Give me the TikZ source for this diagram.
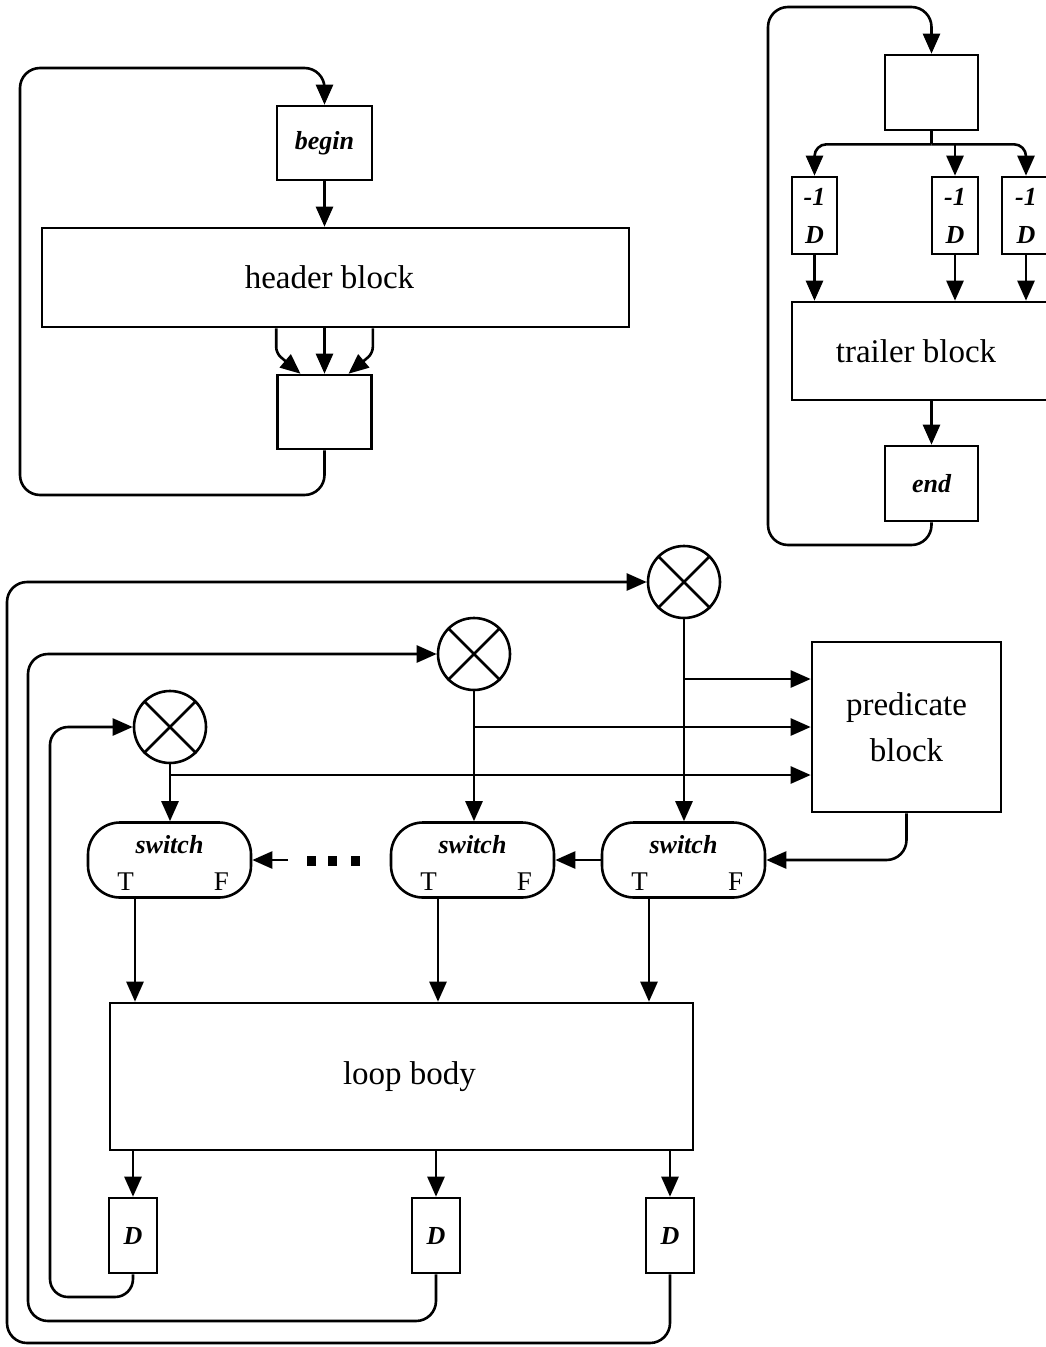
\documentclass[tikz,border=0pt]{standalone}
\usepackage{fontspec}
\setmainfont{Liberation Serif}
\usetikzlibrary{arrows.meta}
\tikzset{
  ln/.style={line width=2.6pt},
  arr/.style={line width=2.6pt, -{Triangle[length=20pt,width=17pt]}},
  blk/.style={draw, line width=2.6pt, inner sep=0pt, anchor=center},
  big/.style={font=\fontsize{33}{46}\selectfont},
  ital/.style={font=\fontsize{26}{38}\selectfont\bfseries\itshape},
  upr/.style={font=\fontsize{27}{30}\selectfont, inner sep=0pt},
  xcirc/.style={draw, circle, line width=2.6pt, minimum size=72pt, inner sep=0pt},
  swbox/.style={draw, rounded corners=32pt, line width=2.6pt, minimum width=163pt, minimum height=75pt, inner sep=0pt},
  dotsq/.style={fill, rectangle, minimum width=9pt, minimum height=10pt, inner sep=0pt},
}
\begin{document}
\begin{tikzpicture}[x=1pt,y=-1pt]
\useasboundingbox[fill=white] (0,0) rectangle (1045,1347);

% ---------- top left ----------
\node[blk, ital, minimum width=95pt, minimum height=74pt] (begin) at (324.5,143) {begin};
\node[blk, big, minimum width=587pt, minimum height=99pt] (header) at (335.5,277.5) {\hspace*{-12pt}header block};
\node[blk, minimum width=94pt, minimum height=74pt] (hbox) at (324.5,412) {};
\draw[arr] (begin.south) -- (header.north -| begin);
\draw[arr] (header.south -| hbox) -- (hbox.north);
\draw[arr, rounded corners=6pt] (header.south -| hbox.west) -- ++(0,25) -- ([xshift=-24pt]hbox.north);
\draw[arr, rounded corners=6pt] (header.south -| hbox.east) -- ++(0,25) -- ([xshift=24pt]hbox.north);
\draw[arr, rounded corners=20pt] (hbox.south) -- (324.5,495) -- (20,495) -- (20,68) -- (324.5,68) -- (begin.north);

% ---------- top right ----------
\node[blk, minimum width=93pt, minimum height=75pt] (tbox) at (931.5,92.5) {};
\node[blk, ital, align=center, minimum width=45pt, minimum height=77pt] (d1) at (814.5,215.5) {-1\\D};
\node[blk, ital, align=center, minimum width=46pt, minimum height=77pt] (d2) at (955,215.5) {-1\\D};
\node[blk, ital, align=center, minimum width=48pt, minimum height=77pt] (d3) at (1026,215.5) {-1\\D};
\node[blk, big, minimum width=258pt, minimum height=98pt] (trailer) at (921,351) {\hspace*{-10pt}trailer block};
\node[blk, ital, minimum width=93pt, minimum height=75pt] (end) at (931.5,483.5) {end};
\draw[ln] (tbox.south) -- ++(0,13) coordinate (br);
\draw[arr, rounded corners=12pt] (br) -| (d1.north);
\draw[arr, rounded corners=12pt] (br) -| (d3.north);
\draw[arr] (br -| d2) -- (d2.north);
\draw[arr] (d1.south) -- (d1.south |- trailer.north);
\draw[arr] (d2.south) -- (d2.south |- trailer.north);
\draw[arr] (d3.south) -- (d3.south |- trailer.north);
\draw[arr] (trailer.south -| end) -- (end.north);
\draw[arr, rounded corners=20pt] (end.south) -- (931.5,545) -- (768,545) -- (768,7) -- (931.5,7) -- (tbox.north);

% ---------- main loop ----------
\node[xcirc] (c1) at (684,582) {};
\node[xcirc] (c2) at (474,654) {};
\node[xcirc] (c3) at (170,727) {};
\foreach \c in {c1,c2,c3}{
  \draw[ln] (\c.north east) -- (\c.south west);
  \draw[ln] (\c.north west) -- (\c.south east);
}
\node[blk, big, align=center, minimum width=189pt, minimum height=170pt] (pred) at (906.5,727) {predicate\\block};

\node[swbox] (sw1) at (169.5,860) {};
\node[swbox] (sw2) at (472.5,860) {};
\node[swbox] (sw3) at (683.5,860) {};
\foreach \s in {sw1,sw2,sw3}{
  \node[ital, inner sep=0pt] (\s lab) at ([yshift=15pt]\s.center) {switch};
  \node[upr] (\s T) at ([xshift=-44pt,yshift=-22pt]\s.center) {T};
  \node[upr] (\s F) at ([xshift=52pt,yshift=-22pt]\s.center) {F};
}

% circles down to switches
\draw[arr] (c1.south) -- (c1.south |- sw3.north);
\draw[arr] (c2.south) -- (c2.south |- sw2.north);
\draw[arr] (c3.south) -- (c3.south |- sw1.north);
% branches to predicate
\coordinate (b1) at (684,679);
\coordinate (b2) at (474,727);
\coordinate (b3) at (170,775);
\draw[arr] (b1) -- (b1 -| pred.west);
\draw[arr] (b2) -- (b2 -| pred.west);
\draw[arr] (b3) -- (b3 -| pred.west);
% predicate to switches
\draw[arr, rounded corners=20pt] (pred.south) |- (sw3.east);
\draw[arr] (sw3.west) -- (sw2.east);
\node[dotsq] (dt1) at (311.5,861) {};
\node[dotsq] (dt2) at (332.5,861) {};
\node[dotsq] (dt3) at (355.5,861) {};
\coordinate (swin) at (288,860);
\draw[arr] (swin) -- (sw1.east);

% loop body
\node[blk, big, minimum width=583pt, minimum height=147pt] (loop) at (401.5,1076.5) {\hspace*{16pt}loop body};
\draw[arr] ([xshift=-34.5pt]sw1.south) -- ([xshift=-34.5pt]sw1.south |- loop.north);
\draw[arr] ([xshift=-34.5pt]sw2.south) -- ([xshift=-34.5pt]sw2.south |- loop.north);
\draw[arr] ([xshift=-34.5pt]sw3.south) -- ([xshift=-34.5pt]sw3.south |- loop.north);

\node[blk, ital, minimum width=48pt, minimum height=75pt] (D1) at (133,1235.5) {D};
\node[blk, ital, minimum width=48pt, minimum height=75pt] (D2) at (436,1235.5) {D};
\node[blk, ital, minimum width=48pt, minimum height=75pt] (D3) at (670,1235.5) {D};
\draw[arr] (loop.south -| D1) -- (D1.north);
\draw[arr] (loop.south -| D2) -- (D2.north);
\draw[arr] (loop.south -| D3) -- (D3.north);

\draw[arr, rounded corners=18pt] (D1.south) -- (133,1297) -- (50,1297) -- (50,727) -- (c3.west);
\draw[arr, rounded corners=20pt] (D2.south) -- (436,1321) -- (28,1321) -- (28,654) -- (c2.west);
\draw[arr, rounded corners=20pt] (D3.south) -- (670,1343) -- (7,1343) -- (7,582) -- (c1.west);
\end{tikzpicture}
\end{document}
